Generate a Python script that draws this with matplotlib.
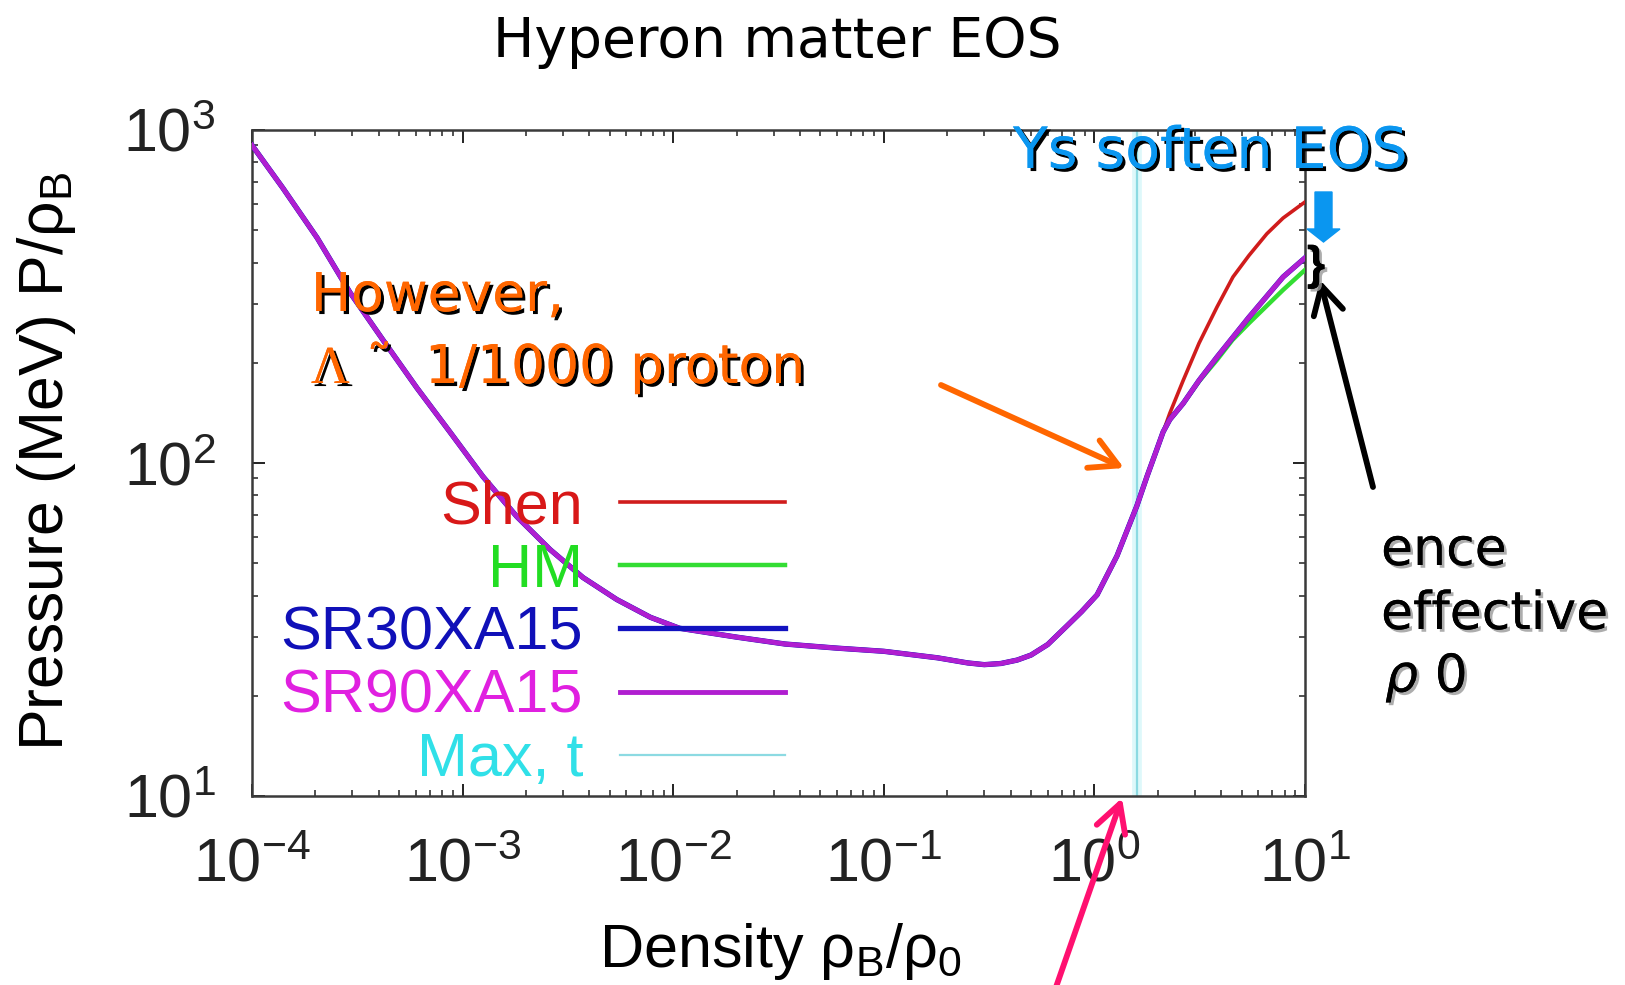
import numpy as np
import matplotlib.pyplot as plt
import matplotlib.patheffects as pe
from matplotlib.patches import FancyArrow
from matplotlib.ticker import LogLocator, FuncFormatter, NullFormatter

plt.rcParams['font.family'] = ['Liberation Sans', 'DejaVu Sans']
plt.rcParams['mathtext.fontset'] = 'custom'
plt.rcParams['mathtext.rm'] = 'Liberation Sans'
plt.rcParams['mathtext.it'] = 'Liberation Sans:italic'
plt.rcParams['mathtext.bf'] = 'Liberation Sans:bold'

# low density branch, identical for every EOS
rho_common = [1e-4, 1.4e-4, 2.04e-4, 2.92e-4, 4.19e-4, 6.07e-4, 8.7e-4, 1.25e-3,
              1.81e-3, 2.6e-3, 3.73e-3, 5.4e-3, 7.8e-3, 0.0107, 0.02, 0.034,
              0.06, 0.1, 0.18, 0.25, 0.3, 0.36, 0.43, 0.5, 0.6, 0.74, 0.87,
              1.03, 1.28, 1.59, 1.78, 1.98, 2.12]
p_common = [900, 670, 474, 325, 234, 168, 124, 91, 69, 55.0, 45.3, 38.9, 34.4,
            31.9, 30.0, 28.6, 27.8, 27.2, 26.0, 25.1, 24.8, 25.0, 25.6, 26.5,
            28.5, 32.4, 35.8, 40.2, 52.6, 74.3, 91.4, 110, 124]

# high density branches
rho_shen_hi = [2.28, 2.64, 3.14, 3.82, 4.55, 5.42, 6.59, 7.87, 10.0]
p_shen_hi = [141, 177, 229, 294, 362, 420, 488, 544, 608]

rho_hm_hi = [2.28, 2.64, 3.14, 3.82, 4.52, 5.42, 7.87, 10.0]
p_hm_hi = [135, 151, 176, 204, 234, 263, 331, 380]

rho_sr30_hi = [2.28, 2.64, 3.14, 3.82, 5.42, 7.87, 10.0]
p_sr30_hi = [135, 151, 177, 208, 274, 362, 413]

rho_sr90_hi = [2.28, 2.64, 3.14, 3.82, 5.42, 7.87, 10.0]
p_sr90_hi = [135, 151, 177, 208, 274, 362, 413]

rho_max_t = 1.6

labels = ['Shen', 'HM', 'SR30XA15', 'SR90XA15', 'Max, t']
line_colors = ['#d01c1c', '#33dd33', '#1212c0', '#b01ed0', '#8cdae2']
text_colors = ['#d81818', '#22dd22', '#1010b8', '#e020e0', '#30e0e8']

W, H = 1625, 985
fig = plt.figure(figsize=(W / 100, H / 100), dpi=100)


def fx(x):
    return x / W


def fy(y):
    return 1 - y / H


ax = fig.add_axes([fx(252), fy(796), 1053 / W, 666 / H])
ax.set_xscale('log')
ax.set_yscale('log')
ax.set_xlim(1e-4, 10)
ax.set_ylim(10, 1000)

ax.axvline(rho_max_t, color='#c8f4f8', lw=7, alpha=0.6, zorder=1)
l_max = ax.axvline(rho_max_t, color=line_colors[4], lw=1.6, zorder=2)

series = [(rho_shen_hi, p_shen_hi, 2.6),
          (rho_hm_hi, p_hm_hi, 3.2),
          (rho_sr30_hi, p_sr30_hi, 3.8),
          (rho_sr90_hi, p_sr90_hi, 3.5)]
handles = []
for (rx, py, lw), c in zip(series, line_colors):
    xs = np.concatenate([rho_common, rx])
    ys = np.concatenate([p_common, py])
    h, = ax.plot(xs, ys, color=c, lw=lw, zorder=3)
    handles.append(h)
handles.append(l_max)

for s in ax.spines.values():
    s.set_color('#3a3a3a')
    s.set_linewidth(1.8)

ax.xaxis.set_major_locator(LogLocator(base=10, numticks=10))
ax.yaxis.set_major_locator(LogLocator(base=10, numticks=10))
ax.xaxis.set_minor_locator(LogLocator(base=10, subs=np.arange(2, 10), numticks=20))
ax.yaxis.set_minor_locator(LogLocator(base=10, subs=np.arange(2, 10), numticks=20))
fmt = FuncFormatter(lambda v, p: r'$\mathregular{10^{%d}}$' % round(np.log10(v)))
ax.xaxis.set_major_formatter(fmt)
ax.yaxis.set_major_formatter(fmt)
ax.xaxis.set_minor_formatter(NullFormatter())
ax.yaxis.set_minor_formatter(NullFormatter())
ax.tick_params(which='both', direction='in', top=True, right=True, colors='#222222')
ax.tick_params(which='major', length=9, width=1.4, labelsize=44)
ax.tick_params(which='minor', length=4.5, width=1.1)
ax.tick_params(axis='x', which='major', pad=30)
ax.tick_params(axis='y', which='major', pad=26)

leg = ax.legend(handles, labels, loc='upper right', bbox_to_anchor=(0.506, 0.475),
                markerfirst=False, frameon=False, fontsize=44, handlelength=2.7,
                handletextpad=0.6, labelspacing=0.1, borderpad=0, borderaxespad=0)
for t, c in zip(leg.get_texts(), text_colors):
    t.set_color(c)

fig.text(fx(777), fy(57), 'Hyperon matter EOS', fontsize=39.7, family='DejaVu Sans',
         ha='center', va='baseline')
fig.text(fx(47), fy(461), r'Pressure (MeV) P/ρ$_\mathregular{B}$', fontsize=45,
         rotation=90, ha='center', va='center')
fig.text(fx(780), fy(967), r'Density ρ$_\mathregular{B}$/ρ$_\mathregular{0}$', fontsize=44,
         ha='center', va='baseline')

shadow_k = [pe.withSimplePatchShadow(offset=(2.2, -2.2), shadow_rgbFace='black', alpha=1.0),
            pe.Normal()]
shadow_g = [pe.withSimplePatchShadow(offset=(2.0, -2.0), shadow_rgbFace='#999999', alpha=0.8),
            pe.Normal()]

orange = '#ff6600'
note = dict(fontsize=38.5, color=orange, family='DejaVu Sans', path_effects=shadow_k)
fig.text(fx(311), fy(311), 'However,', **note)
fig.text(fx(311), fy(383), 'Λ', fontsize=38.5, color=orange, family='Liberation Serif',
         path_effects=shadow_k)
fig.text(fx(366), fy(383), '˜', **note)
fig.text(fx(425), fy(383), '1/1000 proton', **note)

blue = '#0a96f0'
fig.text(fx(1013), fy(168), 'Ys soften EOS', fontsize=41, color=blue,
         family='DejaVu Sans', path_effects=shadow_k)

side = dict(fontsize=37.5, family='DejaVu Sans', path_effects=shadow_g)
fig.text(fx(1381), fy(565), 'ence', **side)
fig.text(fx(1381), fy(629), 'effective', **side)
fig.text(fx(1385), fy(692), r'$\rho$ 0', math_fontfamily='dejavusans', **side)

fig.text(fx(1316), fy(267), '}', fontsize=34, weight='bold', ha='center', va='center',
         path_effects=shadow_g)

fig.add_artist(FancyArrow(fx(1323.5), fy(192), 0, -(242 - 192) / H, width=17 / W,
                          head_width=33 / W, head_length=13 / H,
                          length_includes_head=True, color=blue, transform=fig.transFigure))


def arrow(x0, y0, x1, y1, color):
    ax.annotate('', xy=(fx(x1), fy(y1)), xycoords='figure fraction',
                xytext=(fx(x0), fy(y0)), textcoords='figure fraction',
                annotation_clip=False,
                arrowprops=dict(arrowstyle='->,head_length=1.1,head_width=0.6',
                                mutation_scale=18, lw=4.2, color=color,
                                shrinkA=0, shrinkB=0))


arrow(941, 385, 1124, 468, orange)
arrow(1373, 487, 1320, 280, 'black')
arrow(1055, 990, 1122, 798, '#ff1070')

fig.savefig('out.png', dpi=100)
